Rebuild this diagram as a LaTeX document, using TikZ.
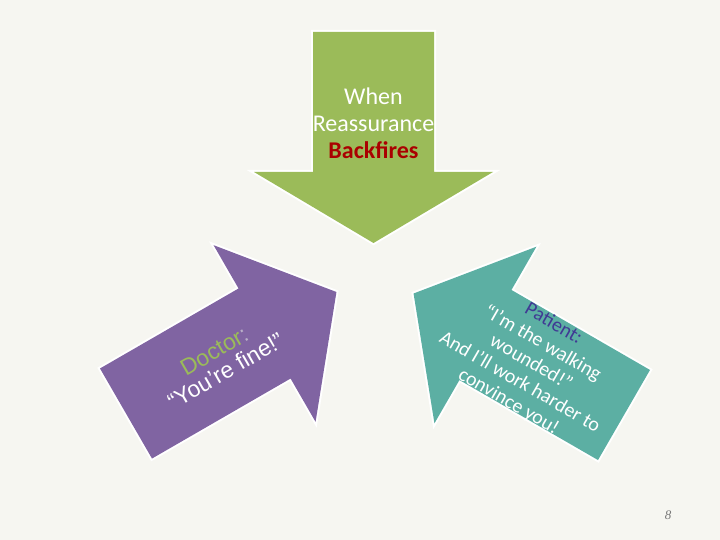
\documentclass[tikz,border=0pt]{standalone}
\usepackage{fontspec}
\setmainfont{Carlito}
\newfontfamily\arialf{Liberation Sans}
\newfontfamily\pagef{Liberation Serif}
\definecolor{bgcol}{RGB}{246,246,241}
\definecolor{arrgreen}{RGB}{155,187,89}
\definecolor{arrpurple}{RGB}{128,100,162}
\definecolor{arrteal}{RGB}{92,175,163}
\definecolor{darkredtxt}{RGB}{170,0,0}
\definecolor{patientblue}{RGB}{64,58,148}
\definecolor{colongray}{RGB}{185,175,200}
\definecolor{pagegray}{RGB}{120,120,120}
\tikzset{
  bigarrow/.style={fill=#1, preaction={draw=white, line width=4pt, line join=miter}},
  arrowtext/.style={text=white, align=center, inner sep=0pt}
}
\begin{document}
\begin{tikzpicture}[x=1pt,y=-1pt]
\fill[bgcol] (0,0) rectangle (720,540);
\useasboundingbox (0,0) rectangle (720,540);
% green down arrow
\path[bigarrow=arrgreen] (313,32) -- (434,32) -- (434,172) -- (493,172) -- (373.5,243)
  -- (254,172) -- (313,172) -- cycle;
% purple arrow (up-right)
\begin{scope}[shift={(126,413.5)}, rotate=30]
\path[bigarrow=arrpurple] (0,52) -- (0,-52) -- (160,-52) -- (160,-102) -- (243,0)
  -- (160,102) -- (160,52) -- cycle;
\end{scope}
% teal arrow (up-left)
\begin{scope}[shift={(624,415)}, rotate=150]
\path[bigarrow=arrteal] (0,52) -- (0,-52) -- (160,-52) -- (160,-102) -- (243,0)
  -- (160,102) -- (160,52) -- cycle;
\end{scope}
% texts
\node[arrowtext, font=\fontsize{24}{27}\selectfont] (title) at (373.5,123)
  {When\\Reassurance\\{\bfseries\color{darkredtxt}Backfires}};
\node[arrowtext, rotate=30, font=\arialf\fontsize{23}{23}\selectfont] (doctor) at (220,361)
  {{\color{arrgreen}Doctor}{\color{colongray}:}\\“You’re fine!”};
\node[arrowtext, rotate=-30, font=\fontsize{20}{22.5}\selectfont] (patient) at (531,363)
  {{\color{patientblue}Patient:}\\“I’m the walking\\wounded!”\\And I’ll work harder to\\convince you!};
\node[text=pagegray, font=\pagef\itshape\fontsize{13}{13}\selectfont, inner sep=0pt] (pagenum) at (668,515) {8};
\end{tikzpicture}
\end{document}
